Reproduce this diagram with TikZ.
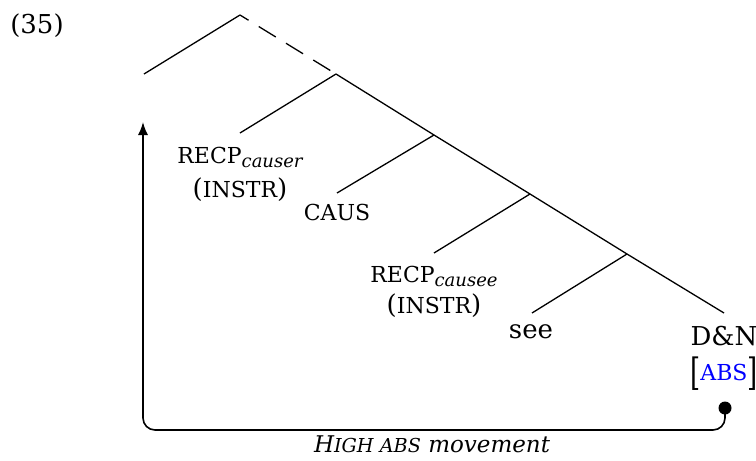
\documentclass[tikz,border=0pt]{standalone}
\usepackage{fontspec}
\setmainfont{DejaVu Serif}
\usetikzlibrary{arrows.meta}
\newcommand\mysc[1]{{\fontsize{11}{13}\selectfont #1}}
\newcommand\myscit[1]{{\fontsize{9.6}{11}\selectfont #1}}
\newcommand\mysub[1]{\raisebox{-2pt}{\fontsize{9}{10}\selectfont\itshape #1}}
\begin{document}
\begin{tikzpicture}[x=0.5pt,y=-0.5pt,
  tree/.style={line width=0.65pt},
  lbl/.style={inner sep=0pt,anchor=base,font=\fontsize{13}{15}\selectfont},
  movepath/.style={line width=0.8pt,rounded corners=6pt,-{Latex[length=6.5pt,width=5pt]}}]
\useasboundingbox (0,0) rectangle (756,461);
% tree points
\coordinate (n0) at (240,15);
\coordinate (n1) at (336,74);
\coordinate (n2) at (434,135);
\coordinate (n3) at (530,194);
\coordinate (n4) at (627,254);
\coordinate (l0) at (144,74);
\coordinate (l1) at (240,133);
\coordinate (l2) at (337,193);
\coordinate (l3) at (434,253);
\coordinate (l4) at (532,313);
\coordinate (l5) at (724,313);
\draw[tree] (n0) -- (l0);
\draw[tree,dash pattern=on 10pt off 6pt,dash phase=5pt] (n0) -- (n1);
\draw[tree] (n1) -- (l1);
\draw[tree] (n1) -- (n2);
\draw[tree] (n2) -- (l2);
\draw[tree] (n2) -- (n3);
\draw[tree] (n3) -- (l3);
\draw[tree] (n3) -- (n4);
\draw[tree] (n4) -- (l4);
\draw[tree] (n4) -- (l5);
% labels
\node[lbl] (ex) at (37,33) {(35)};
\node[lbl] (recp1) at (240,163) {\mysc{RECP}\mysub{causer}};
\node[lbl] (instr1) at (240,197) {(\mysc{INSTR})};
\node[lbl] (caus) at (337,220) {\mysc{CAUS}};
\node[lbl] (recp2) at (434,282) {\mysc{RECP}\mysub{causee}};
\node[lbl] (instr2) at (434,313) {(\mysc{INSTR})};
\node[lbl] (see) at (531,338) {see};
\node[lbl] (dn) at (724,345) {D\&N};
\node[lbl] (abs) at (724,380) {\raisebox{-2.5pt}{\scalebox{1}[1.45]{[}}\mysc{\textcolor{blue}{ABS}}\raisebox{-2.5pt}{\scalebox{1}[1.45]{]}}};
% movement
\coordinate (bl) at (143,430);
\coordinate (tip) at (143,122);
\coordinate (start) at (725,408);
\draw[movepath] (start) |- (bl) -- (tip);
\node[circle,fill=black,inner sep=0pt,minimum size=6.5pt] (dot) at (start) {};
\node[lbl,font=\fontsize{11.5}{13}\selectfont\itshape] (mv) at (432,452) {H\myscit{IGH ABS} movement};
\end{tikzpicture}
\end{document}
